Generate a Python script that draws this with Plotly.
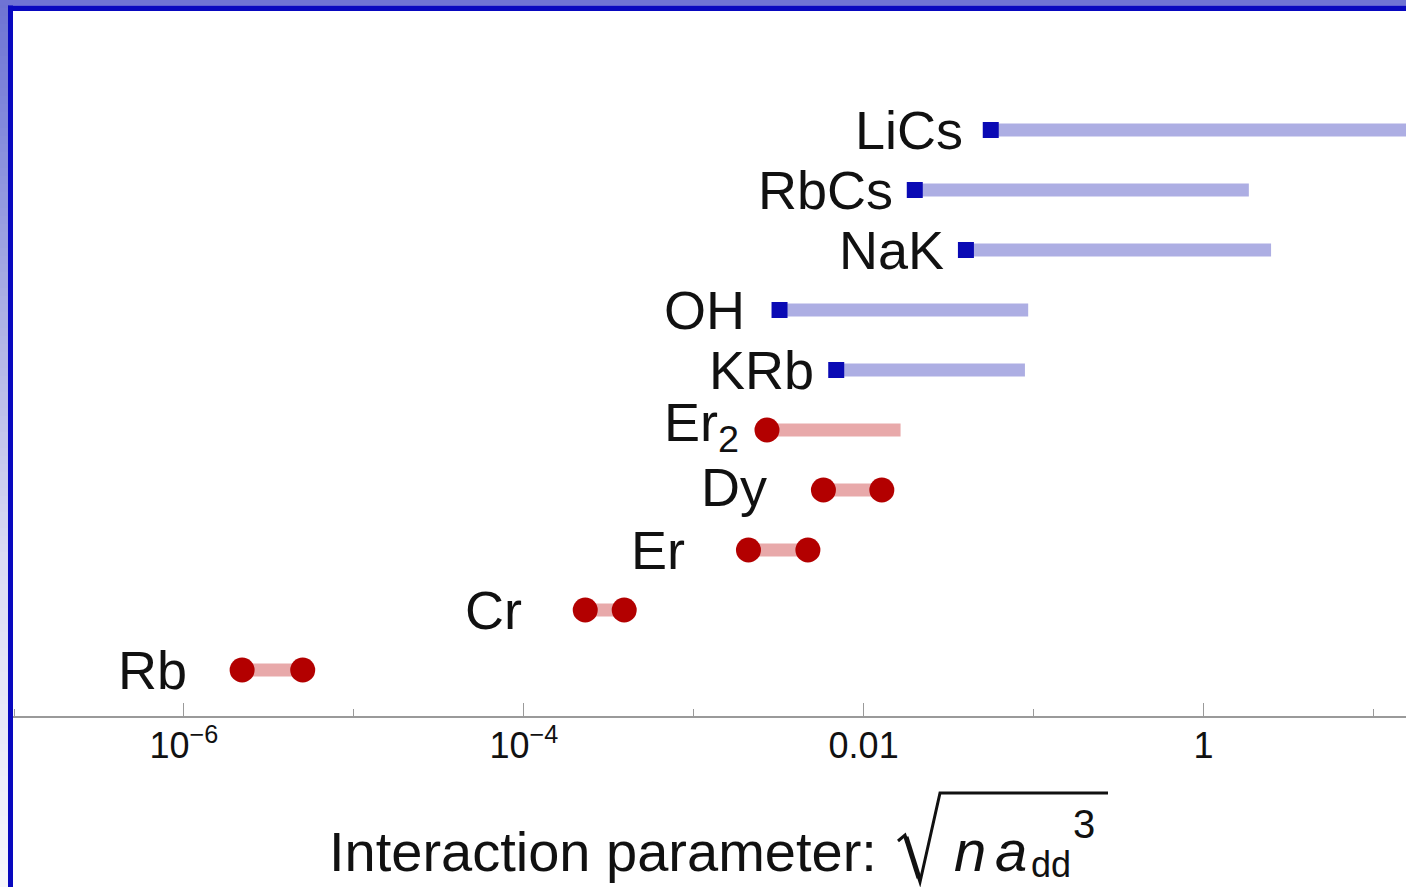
import numpy as np
import plotly.graph_objects as go

# ---- data -------------------------------------------------------------
species = ["Rb", "Cr", "Er", "Dy", "Er<sub>2</sub>", "KRb", "OH", "NaK", "RbCs", "LiCs"]
kind = ["atom", "atom", "atom", "atom", "dimer", "mol", "mol", "mol", "mol", "mol"]
low_value = [2.2e-6, 2.3e-4, 2.1e-3, 5.8e-3, 2.7e-3, 6.9e-3, 3.2e-3, 0.040, 0.020, 0.056]
high_value = [5.0e-6, 3.9e-4, 4.7e-3, 0.0128, 0.0165, 0.089, 0.093, 2.5, 1.85, 40.0]

tick_values = [1e-6, 1e-4, 1e-2, 1]
tick_labels = ["10<sup>\u22126</sup>", "10<sup>\u22124</sup>", "0.01", "1"]
minor_tick_values = [1e-7, 1e-5, 1e-3, 1e-1, 10]

# ---- layout geometry ---------------------------------------------------
W, H = 1406, 887
ML, MR, MT, MB = 13, 0, 11, 171
PW, PH = W - ML - MR, H - MT - MB

def px(x):
    return (x - ML) / PW

def py(y):
    return (H - MB - y) / PH

# label spacing (px between label's right edge and the first marker)
label_gap = [53, 61, 61, 54, 26, 20, 33, 20, 20, 26]
label_lift = [0, 0, 0, 3, 4, 0, 0, 0, 0, 0]

RED = "#b30000"
RED_BAR = "#e8a9aa"
BLUE = "#0a0ab4"
BLUE_BAR = "#adaee3"
FONT = "Liberation Sans, Arial, Helvetica, sans-serif"

fig = go.Figure()

ypos = list(range(len(species)))

# range bars
for i, k in enumerate(kind):
    fig.add_trace(go.Scatter(
        x=[low_value[i], high_value[i]], y=[ypos[i], ypos[i]],
        mode="lines",
        line=dict(color=BLUE_BAR if k == "mol" else RED_BAR, width=13),
        hoverinfo="skip", showlegend=False,
    ))

# end markers
atom_x, atom_y, mol_x, mol_y = [], [], [], []
for i, k in enumerate(kind):
    if k == "atom":
        atom_x += [low_value[i], high_value[i]]
        atom_y += [ypos[i], ypos[i]]
    elif k == "dimer":
        atom_x.append(low_value[i])
        atom_y.append(ypos[i])
    else:
        mol_x.append(low_value[i])
        mol_y.append(ypos[i])

fig.add_trace(go.Scatter(
    x=atom_x, y=atom_y, mode="markers",
    marker=dict(symbol="circle", size=25, color=RED, line=dict(width=0)),
    showlegend=False, hoverinfo="skip",
))
fig.add_trace(go.Scatter(
    x=mol_x, y=mol_y, mode="markers",
    marker=dict(symbol="square", size=16, color=BLUE, line=dict(width=0)),
    showlegend=False, hoverinfo="skip",
))

annotations = []
for i, name in enumerate(species):
    annotations.append(dict(
        x=np.log10(low_value[i]), y=ypos[i], xref="x", yref="y",
        text=name, showarrow=False, xanchor="right", yanchor="middle",
        xshift=-label_gap[i], yshift=label_lift[i],
        font=dict(family=FONT, size=54, color="#111111"),
    ))

# axis title pieces
annotations.append(dict(
    x=px(879), y=py(851), xref="paper", yref="paper",
    text="Interaction parameter:", showarrow=False,
    xanchor="right", yanchor="middle",
    font=dict(family=FONT, size=56, color="#111111"),
))
annotations.append(dict(
    x=px(952), y=py(871 - 0.35 * 58), xref="paper", yref="paper",
    text="<i>n</i>", showarrow=False, xanchor="left", yanchor="middle",
    font=dict(family=FONT, size=58, color="#111111"),
))
annotations.append(dict(
    x=px(993), y=py(871 - 0.35 * 58), xref="paper", yref="paper",
    text="<i>a</i>", showarrow=False, xanchor="left", yanchor="middle",
    font=dict(family=FONT, size=58, color="#111111"),
))
annotations.append(dict(
    x=px(1029), y=py(877 - 0.35 * 36), xref="paper", yref="paper",
    text="dd", showarrow=False, xanchor="left", yanchor="middle",
    font=dict(family=FONT, size=36, color="#111111"),
))
annotations.append(dict(
    x=px(1084), y=py(824), xref="paper", yref="paper",
    text="3", showarrow=False, xanchor="center", yanchor="middle",
    font=dict(family=FONT, size=40, color="#111111"),
))

shapes = []
# background gradient strips outside the frame
stops = [(0, (0x6E, 0x73, 0xD3)), (120, (0x82, 0x89, 0xDC)), (300, (0xAA, 0xAE, 0xE4)),
         (560, (0xDC, 0xDC, 0xF4)), (887, (0xF7, 0xF7, 0xFD))]
sy = [s[0] for s in stops]
step = 8
for y0 in range(0, H, step):
    yc = y0 + step / 2
    col = [int(np.interp(yc, sy, [s[1][c] for s in stops])) for c in range(3)]
    shapes.append(dict(
        type="rect", xref="paper", yref="paper",
        x0=px(0), x1=px(8.5), y0=py(y0), y1=py(min(y0 + step, H)),
        fillcolor="rgb(%d,%d,%d)" % tuple(col), line=dict(width=0), layer="below",
    ))
shapes.append(dict(
    type="rect", xref="paper", yref="paper",
    x0=px(0), x1=px(W), y0=py(0), y1=py(5.5),
    fillcolor="#6f74d4", line=dict(width=0), layer="below",
))
# dark frame
shapes.append(dict(
    type="rect", xref="paper", yref="paper",
    x0=px(8), x1=px(W), y0=py(5.5), y1=py(11),
    fillcolor="#0808bf", line=dict(width=0),
))
shapes.append(dict(
    type="rect", xref="paper", yref="paper",
    x0=px(8), x1=px(13), y0=py(5.5), y1=py(H),
    fillcolor="#0808bf", line=dict(width=0),
))

# radical sign over n a_dd^3
rad = "M %f,%f L %f,%f L %f,%f L %f,%f L %f,%f" % (
    px(898), py(841), px(905), py(835), px(920), py(882), px(940), py(793), px(1108), py(793))
shapes.append(dict(type="path", xref="paper", yref="paper", path=rad,
                   line=dict(color="#111111", width=3)))
shapes.append(dict(type="line", xref="paper", yref="paper",
                   x0=px(906), y0=py(837), x1=px(919), y1=py(878),
                   line=dict(color="#111111", width=5)))

fig.update_layout(
    width=W, height=H,
    margin=dict(l=ML, r=MR, t=MT, b=MB, pad=0),
    paper_bgcolor="white", plot_bgcolor="white",
    showlegend=False,
    annotations=annotations, shapes=shapes,
    xaxis=dict(
        type="log", range=[-7.006, 1.192],
        showline=True, linecolor="#9a9a9a", linewidth=1.5,
        ticks="inside", ticklen=13, tickwidth=1.2, tickcolor="#9a9a9a",
        tickvals=tick_values, ticktext=tick_labels,
        tickfont=dict(family=FONT, size=36, color="#111111"),
        ticklabelstandoff=-3,
        minor=dict(tickvals=minor_tick_values, ticks="inside", ticklen=7,
                   tickwidth=1.0, tickcolor="#9a9a9a", showgrid=False),
        showgrid=False, zeroline=False, fixedrange=True,
    ),
    yaxis=dict(range=[-0.7667, 10.983], visible=False, showgrid=False,
               zeroline=False, fixedrange=True),
)

fig.write_html("out.html")
